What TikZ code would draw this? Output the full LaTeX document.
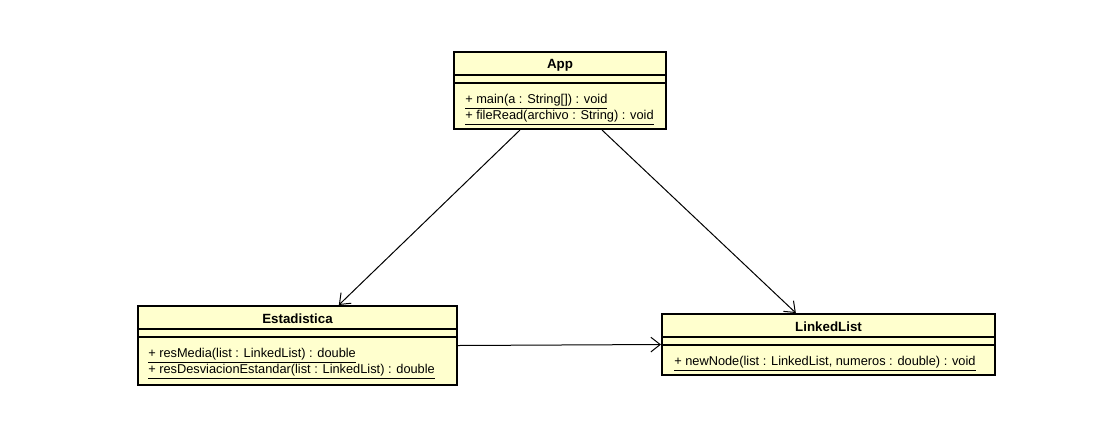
\documentclass[tikz,border=0pt]{standalone}
\usepackage{fontspec}
\setmainfont{Liberation Sans}
\usetikzlibrary{positioning,arrows.meta,calc}
\definecolor{classfill}{RGB}{255,255,206}
\tikzset{
    class/.style = {
        draw,
        shape=rectangle,
        fill=classfill,
        line width=1.5pt,
        inner sep=0pt
    },
    classname/.style = {
        font=\fontsize{10pt}{12pt}\selectfont\bfseries,
        inner sep=0pt
    },
    member/.style = {
        font=\fontsize{9.6pt}{11pt}\selectfont,
        anchor=west,
        inner sep=0pt
    },
    sep/.style = {
        draw,
        line width=1pt
    },
    dep/.style = {
        draw,
        line width=0.75pt,
        -{Straight Barb[length=7pt,width=11pt,line width=0.75pt]}
    },
}

\begin{document}
\begin{tikzpicture}[x=0.75pt,y=-0.75pt]
    \useasboundingbox (0,0) rectangle (1105,433);

    \node[class, minimum width=159pt, minimum height=57.75pt] (app) at (560,90.5) {};
    \node[class, minimum width=239.25pt, minimum height=59.25pt] (est) at (297.5,345.5) {};
    \node[class, minimum width=249.75pt, minimum height=45.75pt] (list) at (828.5,344.5) {};

    \path[sep] ($(app.north west)+(0,24)$) -- ($(app.north east)+(0,24)$);
    \path[sep] ($(app.north west)+(0,32)$) -- ($(app.north east)+(0,32)$);
    \path[sep] ($(est.north west)+(0,24)$) -- ($(est.north east)+(0,24)$);
    \path[sep] ($(est.north west)+(0,32)$) -- ($(est.north east)+(0,32)$);
    \path[sep] ($(list.north west)+(0,24)$) -- ($(list.north east)+(0,24)$);
    \path[sep] ($(list.north west)+(0,32)$) -- ($(list.north east)+(0,32)$);

    \node[classname] (appname) at ($(app.north)+(0,14)$) {App};
    \node[member] (appmain) at ($(app.north west)+(12,51)$) {\underline{+ main(a : String[]) : void}};
    \node[member] (appread) at ($(app.north west)+(12,67)$) {\underline{+ fileRead(archivo : String) : void}};

    \node[classname] (estname) at ($(est.north)+(0,14)$) {Estadistica};
    \node[member] (estmedia) at ($(est.north west)+(11,51)$) {\underline{+ resMedia(list : LinkedList) : double}};
    \node[member] (estdesv) at ($(est.north west)+(11,67)$) {\underline{+ resDesviacionEstandar(list : LinkedList) : double}};

    \node[classname] (listname) at ($(list.north)+(0,14)$) {LinkedList};
    \node[member] (listnew) at ($(list.north west)+(13,51)$) {\underline{+ newNode(list : LinkedList, numeros : double) : void}};

    \path[dep] ([xshift=-30pt]app.south) -- ([xshift=31pt]est.north);
    \path[dep] ([xshift=31.5pt]app.south) -- ([xshift=-24.5pt]list.north);
    \path[dep] (est.east) -- (list.west);
\end{tikzpicture}
\end{document}
